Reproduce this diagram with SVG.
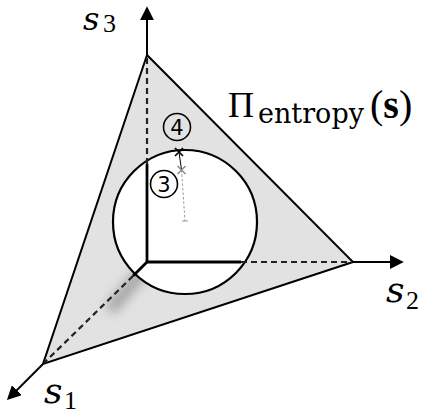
<svg xmlns="http://www.w3.org/2000/svg" width="421" height="414" viewBox="0 0 421 414">
<style>
.ax{stroke:#000;stroke-width:2.8;fill:none}
.ar{stroke:#000;stroke-width:2;fill:none}
.da{stroke:#222;stroke-width:2.2;stroke-dasharray:6 4;fill:none}
.mi{font-family:"DejaVu Serif",serif;font-style:italic;fill:#000}
.rm{font-family:"Liberation Serif",serif;fill:#000}
.dv{font-family:"DejaVu Serif",serif;fill:#000}
.num{font-family:"DejaVu Sans",sans-serif;font-size:21px;fill:#000;text-anchor:middle}
.cl{fill:none;stroke:#000;stroke-width:1.6}
</style>
<defs>
<marker id="ah" markerUnits="userSpaceOnUse" markerWidth="14" markerHeight="14" viewBox="0 0 12 12" refX="1" refY="6" orient="auto">
<path d="M0,0 L12,6 L0,12 Z" fill="#000"/>
</marker>
<filter id="bl" x="-50%" y="-50%" width="200%" height="200%"><feGaussianBlur stdDeviation="6"/></filter>
<clipPath id="tri"><polygon points="147,55 353,262 43,364"/></clipPath>
</defs>
<g id="simplex">
<polygon points="147,55 353,262 43,364" fill="#e2e2e2" stroke="none"/>
<g clip-path="url(#tri)"><line x1="142" y1="272" x2="110" y2="310" stroke="#9a9a9a" stroke-width="11" filter="url(#bl)"/></g>
<polygon points="147,55 353,262 43,364" fill="none" stroke="#000" stroke-width="2" stroke-linejoin="miter"/>
</g>
<g id="ball">
<circle cx="185" cy="222" r="72" fill="#fff" stroke="#000" stroke-width="2.2"/>
</g>
<g id="connectors">
<line class="ax" x1="147" y1="263" x2="147" y2="164"/>
<line class="da" x1="147" y1="164" x2="147" y2="56"/>
<line class="ar" x1="147" y1="55" x2="147" y2="19" marker-end="url(#ah)"/>
<line class="ax" x1="146" y1="262" x2="241" y2="262"/>
<line class="da" x1="241" y1="262" x2="352" y2="262"/>
<line class="ar" x1="353" y1="262" x2="391" y2="262" marker-end="url(#ah)"/>
<line class="ax" x1="147" y1="262" x2="133" y2="276"/>
<line class="da" x1="133" y1="276" x2="44" y2="363"/>
<line class="ar" x1="43" y1="364" x2="16" y2="391" marker-end="url(#ah)"/>
<line x1="179" y1="152" x2="181.5" y2="170" stroke="#000" stroke-width="1"/>
<line x1="181.5" y1="170" x2="185" y2="221" stroke="#999" stroke-width="1" stroke-dasharray="2.5 2"/>
<line x1="182" y1="221" x2="188" y2="221" stroke="#999" stroke-width="1"/>
</g>
<g id="cross-black"><path d="M175,148 L183,156 M183,148 L175,156" stroke="#000" stroke-width="1.7"/></g>
<g id="cross-gray"><path d="M177.5,166 L185.5,174 M185.5,166 L177.5,174" stroke="#888" stroke-width="1.4"/></g>
<g id="label4"><circle class="cl" cx="177" cy="127" r="13.5"/><text class="num" x="177" y="134.5">4</text></g>
<g id="label3"><circle class="cl" cx="164" cy="184" r="13.5"/><text class="num" x="164" y="191.5">3</text></g>
<g id="s3"><text class="mi" x="83" y="30" font-size="32">s</text><text class="rm" x="103" y="32" font-size="26">3</text></g>
<g id="s2"><text class="mi" x="386" y="302" font-size="36">s</text><text class="rm" x="406" y="309" font-size="26">2</text></g>
<g id="s1"><text class="mi" x="44" y="403" font-size="36">s</text><text class="rm" x="64" y="409" font-size="26">1</text></g>
<g id="proj"><text class="rm" x="228" y="117" font-size="36">Π</text><text class="dv" x="258" y="123" font-size="27">entropy</text><text class="rm" x="370" y="118" font-size="40">(<tspan font-weight="bold">s</tspan>)</text></g>
</svg>
